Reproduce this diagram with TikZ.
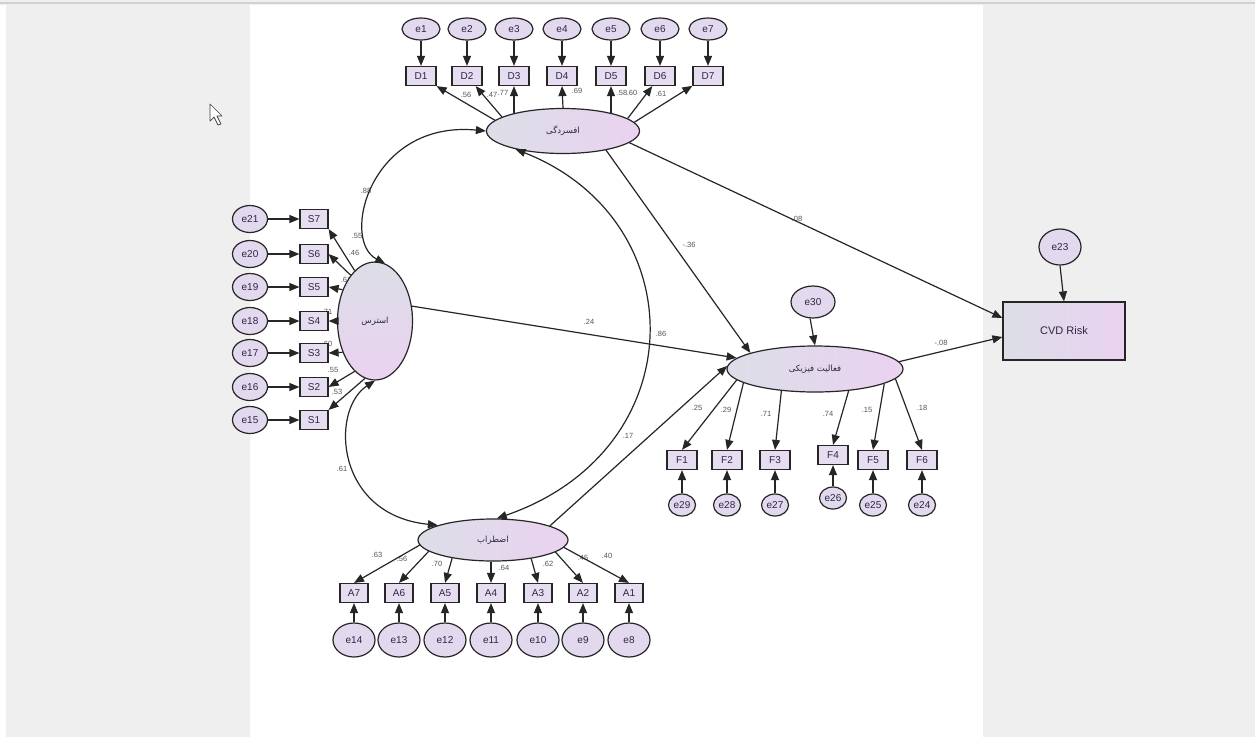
\documentclass[tikz,border=0pt]{standalone}
\usepackage{fontspec}
\setmainfont{Liberation Sans}
\newfontfamily\arabicfont[Script=Arabic]{DejaVu Sans}
\TeXXeTstate=1
\usetikzlibrary{shapes.geometric,arrows.meta}
\definecolor{bgg}{HTML}{EFEFEF}
\definecolor{topln}{HTML}{D2D2D2}
\definecolor{latL}{HTML}{DCDEE7}
\definecolor{latR}{HTML}{EAD2F0}
\definecolor{efill}{HTML}{E2D9EE}
\definecolor{bfill}{HTML}{E6DDF0}
\definecolor{txt}{HTML}{2B2845}
\definecolor{ldc}{HTML}{555555}
\definecolor{edge}{HTML}{262626}
\tikzset{
  res/.style={ellipse, draw=edge, line width=1.2pt, fill=efill, inner sep=0pt, text=txt, font=\fontsize{10}{12}\selectfont},
  obs/.style={rectangle, draw=edge, line width=1.2pt, fill=bfill, inner sep=0pt, minimum width=28pt, minimum height=19pt, text=txt, font=\fontsize{10}{12}\selectfont},
  lat/.style={ellipse, draw=edge, line width=1.2pt, inner sep=0pt, left color=latL, right color=latR, text=txt, font=\arabicfont\fontsize{8.5}{10}\selectfont},
  arr/.style={-{Triangle[length=10pt,width=8pt]}, line width=1.2pt, draw=edge},
  dbl/.style={{Triangle[length=10pt,width=8pt]}-{Triangle[length=10pt,width=8pt]}, line width=1.2pt, draw=edge},
  ld/.style={inner sep=0pt, text=ldc, font=\fontsize{7.5}{9}\selectfont}
}
\begin{document}
\begin{tikzpicture}[x=1pt,y=-1pt]
\useasboundingbox (0,0) rectangle (1255,737);
% background
\fill[bgg] (0,0) rectangle (1255,737);
\fill[white!97!bgg] (0,5) rectangle (6,737);
\fill[white] (250,5) rectangle (983,737);
\fill[topln] (0,1.5) rectangle (1255,4);
% cursor
\draw[line width=0.7pt, draw=black!75, fill=white, line join=round]
  (210,104) -- (210,121) -- (214,117) -- (218,125) -- (221,124) -- (217,116) -- (222,116) -- cycle;

% loading labels (drawn first)
\node[ld] (l1) at (466,95) {.56};
\node[ld] (l2) at (492,95) {.47};
\node[ld] (l3) at (503,93) {.77};
\node[ld] (l4) at (577,91) {.69};
\node[ld] (l5) at (622,93) {.58};
\node[ld] (l6) at (632,93) {.60};
\node[ld] (l7) at (661,94) {.61};
\node[ld] (s7l) at (357,236) {.55};
\node[ld] (s6l) at (354,253) {.46};
\node[ld] (s5l) at (346,280) {.61};
\node[ld] (s4l) at (327,312) {.71};
\node[ld] (s3l) at (327,344) {.60};
\node[ld] (s2l) at (333,370) {.55};
\node[ld] (s1l) at (337,392) {.53};
\node[ld] (a7l) at (377,555) {.63};
\node[ld] (a6l) at (402,559) {.56};
\node[ld] (a5l) at (437,564) {.70};
\node[ld] (a4l) at (504,568) {.64};
\node[ld] (a3l) at (548,564) {.62};
\node[ld] (a2l) at (583,558) {.45};
\node[ld] (a1l) at (607,556) {.40};
\node[ld] (f1l) at (697,408) {.25};
\node[ld] (f2l) at (726,410) {.29};
\node[ld] (f3l) at (766,414) {.71};
\node[ld] (f4l) at (828,414) {.74};
\node[ld] (f5l) at (867,410) {.15};
\node[ld] (f6l) at (922,408) {.18};
\node[ld] (c1l) at (366,191) {.88};
\node[ld] (c2l) at (342,469) {.61};
\node[ld] (c3l) at (661,334) {.86};
\node[ld] (p1l) at (589,322) {.24};
\node[ld] (p2l) at (628,436) {.17};
\node[ld] (p3l) at (689,245) {-.36};
\node[ld] (p4l) at (797,219) {.08};
\node[ld] (p5l) at (941,343) {-.08};

% latent variables
\node[lat, minimum width=153pt, minimum height=45pt] (dep) at (563,131) {\beginR افسردگی\endR};
\node[lat, minimum width=75pt, minimum height=118pt, top color=latL, bottom color=latR] (str) at (375,321) {\beginR استرس\endR};
\node[lat, minimum width=150pt, minimum height=42pt] (anx) at (493,540) {\beginR اضطراب\endR};
\node[lat, minimum width=176pt, minimum height=46pt] (pa) at (815,369) {\beginR فعالیت فیزیکی\endR};
\node[rectangle, draw=edge, line width=1.2pt, left color=latL, right color=latR, minimum width=122pt, minimum height=58pt, text=txt, font=\fontsize{11}{13}\selectfont] (cvd) at (1064,331) {CVD Risk};

% depression indicators
\foreach \i/\x in {1/421,2/467,3/514,4/562,5/611,6/660,7/708}{
  \node[res, minimum width=38pt, minimum height=22pt] (e\i) at (\x,29) {e\i};
  \node[obs, minimum width=30pt] (D\i) at (\x,76) {D\i};
  \draw[arr] (e\i) -- (D\i);
}
\draw[arr] (dep.171) -- (D1.south east);
\draw[arr] (dep.167) -- (D2);
\draw[arr] (D3.south |- dep.160) -- (D3.south);
\draw[arr] (dep.north) -- (D4.south);
\draw[arr] (D5.south |- dep.20) -- (D5.south);
\draw[arr] (dep.11) -- (D6);
\draw[arr] (dep.7) -- (D7);

% stress indicators
\foreach \k/\y/\e in {7/219/21,6/254/20,5/287/19,4/321/18,3/353/17,2/387/16,1/420/15}{
  \node[res, minimum width=35pt, minimum height=27pt] (e\e) at (250,\y) {e\e};
  \node[obs] (S\k) at (314,\y) {S\k};
  \draw[arr] (e\e) -- (S\k);
}
\draw[arr] (str.112) -- (S7.south east);
\draw[arr] (str.118) -- (S6.east);
\draw[arr] (str.136) -- (S5.east);
\draw[arr] (str.west) -- (S4.east);
\draw[arr] (str.-136) -- (S3.east);
\draw[arr] (str.-112) -- (S2.east);
\draw[arr] (str.-100) -- (S1.north east);

% anxiety indicators
\foreach \k/\x/\e in {7/354/14,6/399/13,5/445/12,4/491/11,3/538/10,2/583/9,1/629/8}{
  \node[res, minimum width=42pt, minimum height=34pt] (e\e) at (\x,640) {e\e};
  \node[obs] (A\k) at (\x,593) {A\k};
  \draw[arr] (e\e) -- (A\k);
}
\draw[arr] (anx.-176) -- (A7.north);
\draw[arr] (anx.-170) -- (A6.north);
\draw[arr] (anx.-156) -- (A5.north);
\draw[arr] (A4.north |- anx.south) -- (A4.north);
\draw[arr] (anx.-26) -- (A3.north);
\draw[arr] (anx.-11) -- (A2.north);
\draw[arr] (anx.-6) -- (A1.north);

% physical activity indicators
\foreach \k/\x/\y/\e/\ey in {1/682/460/29/505,2/727/460/28/505,3/775/460/27/505,4/833/455/26/498,5/873/460/25/505,6/922/460/24/505}{
  \node[res, minimum width=27pt, minimum height=22pt] (e\e) at (\x,\ey) {e\e};
  \node[obs, minimum width=30pt] (F\k) at (\x,\y) {F\k};
}
\draw[arr] (e29) -- (F1);
\draw[arr] (e28) -- (F2);
\draw[arr] (e27) -- (F3);
\draw[arr] (e26) -- (F4);
\draw[arr] (e25) -- (F5);
\draw[arr] (e24) -- (F6);
\draw[arr] (pa.-172) -- (F1.north);
\draw[arr] (pa.-169) -- (F2.north);
\draw[arr] (pa.-147) -- (F3.north);
\draw[arr] (pa.-33) -- (F4.north);
\draw[arr] (pa.-12) -- (F5.north);
\draw[arr] (pa.-7) -- (F6.north);

% disturbances
\node[res, minimum width=44pt, minimum height=32pt] (e30) at (813,302) {e30};
\draw[arr] (e30.-100) -- (pa.north);
\node[res, minimum width=42pt, minimum height=36pt] (e23) at (1060,247) {e23};
\draw[arr] (e23.south) -- (cvd.north);

% structural paths
\draw[arr] (dep.-10) -- ([yshift=13pt]cvd.west);
\draw[arr] (dep.-24) -- (pa.166);
\draw[arr] (str.22) -- (pa.172);
\draw[arr] (anx.14) -- (pa.178);
\draw[arr] (pa.5) -- ([yshift=-6pt]cvd.west);

% covariances
\draw[dbl] (dep.west) .. controls (370,120) and (340,240) .. (str.80);
\draw[dbl] (str.south) .. controls (330,410) and (335,515) .. (anx.165);
\draw[dbl] (dep.201) .. controls (695,220) and (695,450) .. (anx.80);
\end{tikzpicture}
\end{document}
